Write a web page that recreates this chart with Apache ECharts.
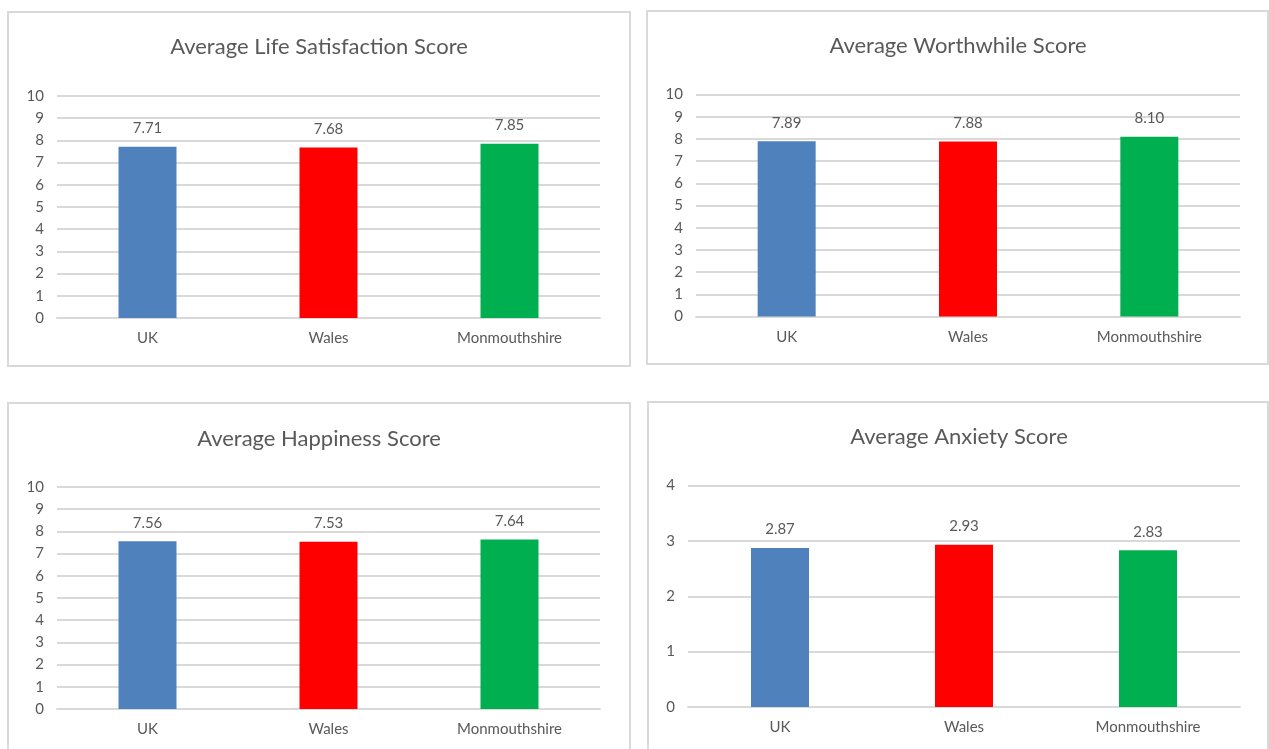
<!DOCTYPE html>
<html><head><meta charset="utf-8">
<script src="https://cdn.jsdelivr.net/npm/echarts@6/dist/echarts.min.js"></script>
<style>html,body{margin:0;padding:0;background:#fff}#c{width:1269px;height:749px}</style>
</head><body><div id="c"></div>
<script>
const categories = ['UK', 'Wales', 'Monmouthshire'];
const titles = ['Average Life Satisfaction Score', 'Average Worthwhile Score', 'Average Happiness Score', 'Average Anxiety Score'];
const lifeSatisfaction = [7.71, 7.68, 7.85];
const worthwhile = [7.89, 7.88, 8.10];
const happiness = [7.56, 7.53, 7.64];
const anxiety = [2.87, 2.93, 2.83];
const barColors = ['#4f81bd', '#ff0000', '#00b050'];
const yMax = [10, 10, 10, 4];

const seriesData = [lifeSatisfaction, worthwhile, happiness, anxiety];
const FONT = 'Lato';
const TXT = '#595959';
const GRID = '#d9d9d9';
const TSIZE = 22;

const panels = [
  {x: 8, y: 12, w: 622, h: 354, grid: {left: 57, top: 96, width: 543, height: 222}, tx: 319, ty: 48},
  {x: 647, y: 11, w: 621, h: 353, grid: {left: 696, top: 94.5, width: 544, height: 222}, tx: 958, ty: 47},
  {x: 8, y: 403, w: 622, h: 360, grid: {left: 57, top: 487, width: 543, height: 222}, tx: 319, ty: 440},
  {x: 648, y: 402, w: 620, h: 360, grid: {left: 688, top: 485.5, width: 552, height: 221.5}, tx: 959, ty: 438}
];

const option = {
  animation: false,
  backgroundColor: '#fff',
  textStyle: {fontFamily: FONT},
  graphic: panels.map(p => ({
    type: 'rect', z: -1, silent: true,
    shape: {x: p.x, y: p.y, width: p.w, height: p.h},
    style: {fill: '#fff', stroke: GRID, lineWidth: 2}
  })),
  title: panels.map((p, i) => ({
    text: titles[i], left: p.tx, top: p.ty - TSIZE / 2 - 1, textAlign: 'center', padding: 0,
    textStyle: {fontFamily: FONT, fontSize: TSIZE, fontWeight: 'normal', color: TXT}
  })),
  grid: panels.map(p => Object.assign({containLabel: false}, p.grid)),
  xAxis: panels.map((p, i) => ({
    type: 'category', gridIndex: i, data: categories,
    axisLine: {show: true, lineStyle: {color: GRID, width: 2}},
    axisTick: {show: false},
    axisLabel: {color: TXT, fontFamily: FONT, fontSize: 15, margin: 13}
  })),
  yAxis: panels.map((p, i) => ({
    type: 'value', gridIndex: i, min: 0, max: yMax[i], interval: 1,
    axisLine: {show: false}, axisTick: {show: false},
    axisLabel: {color: TXT, fontFamily: FONT, fontSize: 15, margin: 13},
    splitLine: {show: true, lineStyle: {color: GRID, width: 2}}
  })),
  series: seriesData.map((d, i) => ({
    type: 'bar', xAxisIndex: i, yAxisIndex: i, barWidth: 58,
    data: d.map((v, j) => ({value: v, itemStyle: {color: barColors[j]}})),
    label: {show: true, position: 'top', distance: 11, color: TXT, fontFamily: FONT, fontSize: 15,
      formatter: p => p.value.toFixed(2)}
  }))
};
echarts.init(document.getElementById('c')).setOption(option);
</script></body></html>
